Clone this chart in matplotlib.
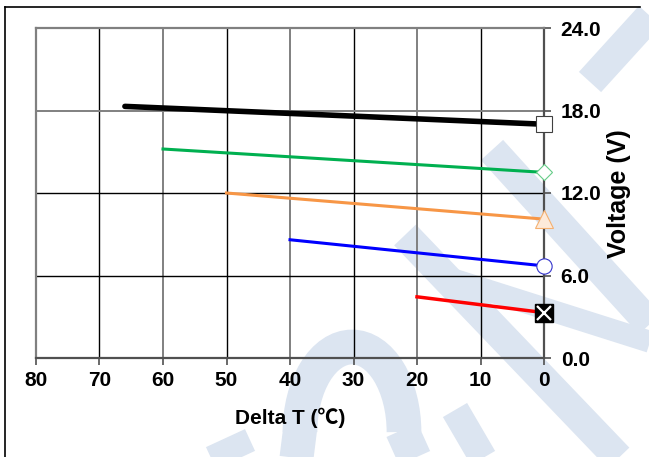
import numpy as np
import matplotlib.pyplot as plt
from matplotlib.lines import Line2D
from matplotlib.patches import Arc

plt.rcParams['font.family'] = ['Liberation Sans', 'DejaVu Sans']

# Datos de las series (Delta T en grados, voltaje en V)
black_x = [66, 0]
black_y = [18.3, 17.0]
green_x = [60, 0]
green_y = [15.2, 13.5]
orange_x = [50, 0]
orange_y = [12.0, 10.1]
blue_x = [40, 0]
blue_y = [8.6, 6.7]
red_x = [20, 0]
red_y = [4.45, 3.3]

x_ticks = [80, 70, 60, 50, 40, 30, 20, 10, 0]
y_ticks = [0, 6, 12, 18, 24]

W, H = 649, 457
fig = plt.figure(figsize=(W / 100, H / 100), dpi=100)

# Marca de agua (trazos azul claro, en pixeles de la figura)
wm = '#dce5f1'
def stroke(p0, p1, w=30):
    fig.add_artist(Line2D([p0[0] / W, p1[0] / W], [1 - p0[1] / H, 1 - p1[1] / H],
                          transform=fig.transFigure, color=wm, lw=w * 0.72,
                          solid_capstyle='butt', zorder=0))

stroke((660, 5), (590, 82))
stroke((492, 150), (660, 335))
stroke((405, 235), (630, 470))
stroke((455, 280), (660, 345), 22)
stroke((455, 410), (490, 470), 28)
stroke((185, 470), (250, 440), 24)
stroke((300, 430), (295, 470), 34)
stroke((402, 430), (420, 470), 34)
fig.add_artist(Arc((352 / W, 1 - 432 / H), 104 / W, 170 / H, theta1=0, theta2=180,
                   transform=fig.transFigure, color=wm, lw=25, zorder=0))

# Marco exterior
fig.add_artist(Line2D([5 / W, 640 / W], [1 - 7 / H, 1 - 7 / H], transform=fig.transFigure,
                      color='black', lw=1.2))
fig.add_artist(Line2D([5 / W, 5 / W], [1 - 7 / H, 0], transform=fig.transFigure,
                      color='black', lw=1.2))

ax = fig.add_axes([36 / W, 1 - 358 / H, (544 - 36) / W, (358 - 28) / H])
ax.set_facecolor('none')
ax.set_xlim(80, 0)
ax.set_ylim(0, 24)

# Rejilla
for v in [70, 60, 50, 40, 30, 20, 10]:
    c = '#000000' if v % 20 else '#808080'
    ax.axvline(v, color=c, lw=1.0 if v % 20 else 1.4, zorder=1)
for v in [6, 12, 18]:
    c = '#808080' if v == 18 else '#000000'
    ax.axhline(v, color=c, lw=1.4 if v == 18 else 1.0, zorder=1)

for s in ['top', 'left']:
    ax.spines[s].set_color('#808080')
    ax.spines[s].set_linewidth(1.6)
for s in ['bottom', 'right']:
    ax.spines[s].set_color('#505050')
    ax.spines[s].set_linewidth(1.6)

ax.plot(black_x, black_y, color='black', lw=4, solid_capstyle='round', zorder=3)
ax.plot(green_x, green_y, color='#00b050', lw=2.2, zorder=3)
ax.plot(orange_x, orange_y, color='#f79646', lw=2.2, zorder=3)
ax.plot(blue_x, blue_y, color='#0000ff', lw=2.2, zorder=3)
ax.plot(red_x, red_y, color='#ff0000', lw=2.5, zorder=3)

# Marcadores al final de cada serie
ax.plot(black_x[-1], black_y[-1], 's', ms=12, mfc='white', mec='#404040', mew=0.8, zorder=5, clip_on=False)
ax.plot(green_x[-1], green_y[-1], 'D', ms=8.5, mfc='white', mec='#66cc88', mew=0.8, zorder=5, clip_on=False)
ax.plot(orange_x[-1], orange_y[-1], '^', ms=13, mfc='#fdeada', mec='#f5b070', mew=0.8, zorder=5, clip_on=False)
ax.plot(blue_x[-1], blue_y[-1], 'o', ms=11, mfc='white', mec='#3333cc', mew=0.8, zorder=5, clip_on=False)
ax.plot(red_x[-1], red_y[-1], 's', ms=12.5, mfc='black', mec='black', zorder=5, clip_on=False)
ax.plot(red_x[-1], red_y[-1], 'x', ms=10.5, mec='white', mew=1.6, zorder=6, clip_on=False)

ax.yaxis.tick_right()
ax.yaxis.set_label_position('right')
ax.set_xticks(x_ticks)
ax.set_xticklabels([str(t) for t in x_ticks])
ax.set_yticks(y_ticks)
ax.set_yticklabels([f'{t:.1f}' for t in y_ticks])
ax.tick_params(axis='both', direction='out', length=5, width=1.2, color='#505050',
               labelsize=15, pad=4)
ax.tick_params(axis='y', pad=7)
for lb in ax.get_xticklabels() + ax.get_yticklabels():
    lb.set_fontweight('bold')

ax.set_xlabel('Delta T (℃)', fontsize=15, fontweight='bold',
              family=['Liberation Sans', 'Noto Sans CJK JP'], va='center')
ax.xaxis.set_label_coords(0.5, -0.18)
ax.set_ylabel('Voltage (V)', fontsize=18, fontweight='bold', va='center')
ax.yaxis.set_label_coords(1.148, 0.497)

fig.savefig('out.png', dpi=100)
